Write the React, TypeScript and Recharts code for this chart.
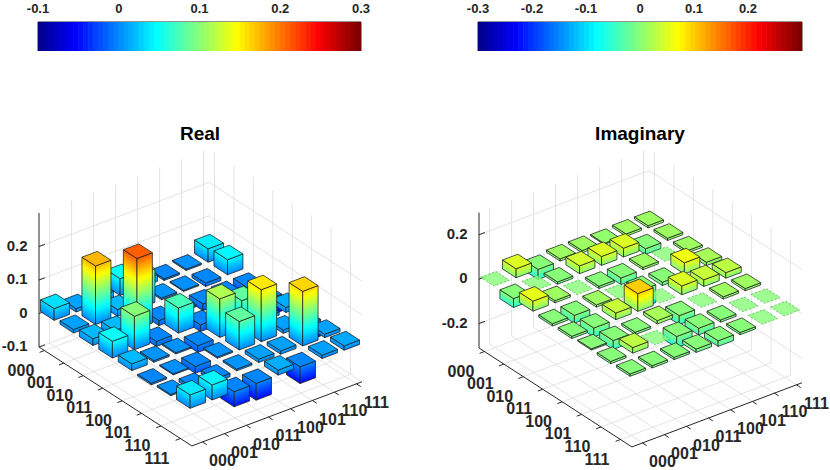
import React from "react";
import {
  ScatterChart,
  Scatter,
  XAxis,
  YAxis,
  ReferenceArea,
  ReferenceLine,
} from "recharts";

// basis states, used for both matrix axes
const BASIS = ["000", "001", "010", "011", "100", "101", "110", "111"];

// real part of the reconstructed density matrix (symmetric)
const REAL_PART = [
  [0.035, 0.01, 0.02, 0.05, 0.02, -0.005, 0.004, 0.04],
  [0.01, 0.175, 0.02, 0.1, 0.005, 0.003, -0.01, 0.045],
  [0.02, 0.02, 0.21, -0.015, 0.004, -0.02, -0.01, -0.045],
  [0.05, 0.1, -0.015, 0.075, -0.02, 0.004, 0.005, -0.05],
  [0.02, 0.005, 0.004, -0.02, 0.115, 0.085, 0.01, 0.015],
  [-0.005, 0.003, -0.02, 0.004, 0.085, 0.155, 0.01, -0.05],
  [0.004, -0.01, -0.01, 0.005, 0.01, 0.01, 0.163, 0.01],
  [0.04, 0.045, -0.045, -0.05, 0.015, -0.05, 0.01, 0.013],
];

// imaginary part (antisymmetric)
const IMAG_PART = [
  [0, 0.04, -0.045, 0.01, 0.01, 0.005, 0.01, 0.01],
  [-0.04, 0, -0.01, 0.035, 0.04, 0.04, -0.025, 0.01],
  [0.045, 0.01, 0, -0.01, -0.03, 0.01, 0, 0.01],
  [-0.01, -0.035, 0.01, 0, -0.08, -0.015, 0.05, 0.015],
  [-0.01, -0.04, 0.03, 0.08, 0, 0.04, 0.03, 0.025],
  [-0.005, -0.04, -0.01, 0.015, -0.04, 0, 0.01, 0.01],
  [-0.01, 0.025, 0, -0.05, -0.03, -0.01, 0, 0],
  [-0.01, -0.01, -0.01, -0.015, -0.025, -0.01, 0, 0],
];

const REAL_Z_TICKS = [-0.1, 0, 0.1, 0.2];
const IMAG_Z_TICKS = [-0.2, 0, 0.2];
const REAL_BAR_TICKS = [-0.1, 0, 0.1, 0.2, 0.3];
const IMAG_BAR_TICKS = [-0.3, -0.2, -0.1, 0, 0.1, 0.2];

const FONT = '"Liberation Sans", Arial, Helvetica, sans-serif';
const INK = "#262626";
const GRID = "#dcdcdc";

// view (az -37.5, el 30): screen offset of one matrix row / column step
const ROW_STEP = [19.43, 12.57];
const COL_STEP = [22, -8.3];
const ROW_LIM = [0.72, 8.59];
const COL_LIM = [0.52, 8.25];
const HALF = 0.35; // half bar width

const CHART_W = 415;
const CHART_H = 470;
const X_DOMAIN = [0, CHART_W];
const Y_DOMAIN = [0, CHART_H];
const PX = CHART_W / (X_DOMAIN[1] - X_DOMAIN[0]);

const CB_H = 29; // colorbar thickness
const CB_TOP = 22;

type Panel = {
  key: string;
  title: string;
  values: number[][];
  clim: [number, number];
  barClim: [number, number];
  zlim: [number, number];
  zticks: number[];
  origin: [number, number];
  zpx: number;
  left: number;
  titleX: number;
};

const PANELS: Panel[] = [
  {
    key: "re",
    title: "Real",
    values: REAL_PART,
    clim: [-0.1, 0.3],
    barClim: [-0.1, 0.3],
    zlim: [-0.1, 0.3],
    zticks: REAL_Z_TICKS,
    origin: [39, 347],
    zpx: 335,
    left: 0,
    titleX: 200,
  },
  {
    key: "im",
    title: "Imaginary",
    values: IMAG_PART,
    clim: [-0.3, 0.3],
    barClim: [-0.24, 0.24],
    zlim: [-0.31, 0.3],
    zticks: IMAG_Z_TICKS,
    origin: [64, 348],
    zpx: 222,
    left: 415,
    titleX: 225,
  },
];

// MATLAB jet, t in [0, 1]
function jetColor(t: number) {
  const k = Math.max(0, Math.min(1, t)) * 64 + 0.5;
  const ch = (d: number) => Math.round(Math.max(0, Math.min(1, d / 16)) * 255);
  const r = ch(Math.min(k - 24, 72 - k));
  const g = ch(Math.min(k - 8, 56 - k));
  const b = ch(Math.min(k + 8, 40 - k));
  return `rgb(${r},${g},${b})`;
}

const valueColor = (v: number, clim: [number, number]) =>
  jetColor((v - clim[0]) / (clim[1] - clim[0]));

const COLORMAP = Array.from({ length: 64 }, (_, i) => jetColor((i + 0.5) / 64));

function project(p: Panel, r: number, c: number, z: number) {
  const dr = r - ROW_LIM[0];
  const dc = c - COL_LIM[0];
  return {
    u: p.origin[0] + dr * ROW_STEP[0] + dc * COL_STEP[0],
    w: p.origin[1] + dr * ROW_STEP[1] + dc * COL_STEP[1] - (z - p.zlim[0]) * p.zpx,
  };
}

function seg(p: Panel, a: number[], b: number[], color: string, width: number) {
  const s = project(p, a[0], a[1], a[2]);
  const e = project(p, b[0], b[1], b[2]);
  return { u: s.u, w: s.w, u2: e.u, w2: e.w, color, width };
}

function buildGrid(p: Panel) {
  const [z0, z1] = p.zlim;
  const [r0, r1] = ROW_LIM;
  const [c0, c1] = COL_LIM;
  const out: any[] = [];
  BASIS.forEach((_, i) => {
    const k = i + 1;
    out.push(seg(p, [k, c0, z0], [k, c1, z0], GRID, 0.8));
    out.push(seg(p, [r0, k, z0], [r1, k, z0], GRID, 0.8));
    out.push(seg(p, [r0, k, z0], [r0, k, z1], GRID, 0.8));
    out.push(seg(p, [k, c1, z0], [k, c1, z1], GRID, 0.8));
  });
  p.zticks.forEach((z) => {
    out.push(seg(p, [r0, c0, z], [r0, c1, z], GRID, 0.8));
    out.push(seg(p, [r0, c1, z], [r1, c1, z], GRID, 0.8));
  });
  return out;
}

function buildAxes(p: Panel) {
  const [z0, z1] = p.zlim;
  const [r0, r1] = ROW_LIM;
  const [c0, c1] = COL_LIM;
  const out: any[] = [
    seg(p, [r0, c0, z0], [r0, c0, z1], INK, 1),
    seg(p, [r0, c0, z0], [r1, c0, z0], INK, 1),
    seg(p, [r1, c0, z0], [r1, c1, z0], INK, 1),
  ];
  p.zticks.forEach((z) => out.push(seg(p, [r0, c0, z], [r0, c0 + 0.27, z], INK, 1)));
  BASIS.forEach((_, i) => {
    out.push(seg(p, [i + 1, c0, z0], [i + 1, c0 - 0.22, z0], INK, 1));
    out.push(seg(p, [r1, i + 1, z0], [r1 + 0.22, i + 1, z0], INK, 1));
  });
  return out;
}

function buildLabels(p: Panel) {
  const z0 = p.zlim[0];
  const out: any[] = [];
  p.zticks.forEach((z) => {
    const q = project(p, ROW_LIM[0], COL_LIM[0], z);
    out.push({ u: q.u - 11.5, w: q.w - 1.5, text: String(z), anchor: "end", size: 15, mid: true });
  });
  BASIS.forEach((name, i) => {
    const a = project(p, i + 1, COL_LIM[0], z0);
    out.push({ u: a.u - 23.5, w: a.w + 19.5, text: name, anchor: "middle", size: 16, mid: true });
    const b = project(p, ROW_LIM[1], i + 1, z0);
    out.push({ u: b.u + 20, w: b.w + 18.8, text: name, anchor: "middle", size: 16, mid: true });
  });
  out.push({ u: p.titleX, w: 140, text: p.title, anchor: "middle", size: 19, mid: false });
  return out;
}

function buildBars(p: Panel, pi: number) {
  const cells: any[] = [];
  p.values.forEach((row, ri) =>
    row.forEach((v, ci) => {
      const q = project(p, ri + 1, ci + 1, 0);
      cells.push({ u: q.u, w: q.w, r: ri + 1, c: ci + 1, v, panel: pi });
    })
  );
  // back to front
  const depth = (d: any) => d.r * ROW_STEP[1] + d.c * COL_STEP[1];
  return cells.sort((a, b) => depth(a) - depth(b));
}

const LineShape = (props: any) => {
  const { cx, cy, payload } = props;
  return (
    <line
      x1={cx}
      y1={cy}
      x2={cx + (payload.u2 - payload.u) * PX}
      y2={cy + (payload.w2 - payload.w) * PX}
      stroke={payload.color}
      strokeWidth={payload.width}
    />
  );
};

const TextShape = (props: any) => {
  const { cx, cy, payload } = props;
  return (
    <text
      x={cx}
      y={cy}
      textAnchor={payload.anchor}
      dominantBaseline={payload.mid ? "central" : "alphabetic"}
      fontFamily={FONT}
      fontWeight={700}
      fontSize={payload.size}
      fill={payload.size > 17 ? "#000" : INK}
    >
      {payload.text}
    </text>
  );
};

function gradient(id: string, p1: number[], e: number[], hPx: number, zb: number, zt: number, clim: [number, number]) {
  const len = Math.hypot(e[0], e[1]);
  const n = [-e[1] / len, e[0] / len];
  const s = -hPx * n[1];
  const stops = [];
  for (let i = 0; i <= 16; i++) {
    const f = i / 16;
    stops.push(<stop key={i} offset={f} stopColor={valueColor(zb + f * (zt - zb), clim)} />);
  }
  return (
    <linearGradient
      id={id}
      gradientUnits="userSpaceOnUse"
      x1={p1[0]}
      y1={p1[1]}
      x2={p1[0] + n[0] * s}
      y2={p1[1] + n[1] * s}
    >
      {stops}
    </linearGradient>
  );
}

const BoxShape = (props: any) => {
  const { cx, cy, payload } = props;
  const p = PANELS[payload.panel];
  const v: number = payload.v;
  const zt = Math.max(0, v);
  const zb = Math.min(0, v);
  const pt = (dr: number, dc: number, z: number) => [
    cx + (dr * ROW_STEP[0] + dc * COL_STEP[0]) * PX,
    cy + (dr * ROW_STEP[1] + dc * COL_STEP[1] - z * p.zpx) * PX,
  ];
  const pts = (a: number[][]) => a.map((q) => q.join(",")).join(" ");
  const H = HALF;
  const top = [pt(-H, -H, zt), pt(-H, H, zt), pt(H, H, zt), pt(H, -H, zt)];
  if (Math.abs(v) < 1e-9) {
    return (
      <polygon
        points={pts(top)}
        fill={valueColor(0, p.barClim)}
        fillOpacity={0.8}
        stroke="#52b452"
        strokeOpacity={0.8}
        strokeDasharray="2.5 1.5"
        strokeWidth={0.9}
      />
    );
  }
  const leftFace = [pt(-H, -H, zb), pt(H, -H, zb), pt(H, -H, zt), pt(-H, -H, zt)];
  const rightFace = [pt(H, -H, zb), pt(H, H, zb), pt(H, H, zt), pt(H, -H, zt)];
  const hPx = (zt - zb) * p.zpx * PX;
  const id = `${p.key}-${payload.r}-${payload.c}`;
  const edge = { stroke: "#1c1c1c", strokeWidth: 0.75, strokeLinejoin: "round" as const };
  return (
    <g>
      <defs>
        {gradient(`${id}-l`, leftFace[0], ROW_STEP, hPx, zb, zt, p.barClim)}
        {gradient(`${id}-r`, rightFace[0], COL_STEP, hPx, zb, zt, p.barClim)}
      </defs>
      <polygon points={pts(leftFace)} fill={`url(#${id}-l)`} {...edge} />
      <polygon points={pts(rightFace)} fill={`url(#${id}-r)`} {...edge} />
      <polygon points={pts(top)} fill={valueColor(zt, p.barClim)} {...edge} />
    </g>
  );
};

function Panel3D({ p, index }: { p: Panel; index: number }) {
  const grid = buildGrid(p);
  const axes = buildAxes(p);
  const labels = buildLabels(p);
  const bars = buildBars(p, index);
  return (
    <div style={{ position: "absolute", left: p.left, top: 0 }}>
      <ScatterChart width={CHART_W} height={CHART_H} margin={{ top: 0, right: 0, bottom: 0, left: 0 }}>
        <XAxis type="number" dataKey="u" domain={X_DOMAIN} hide allowDataOverflow />
        <YAxis type="number" dataKey="w" domain={Y_DOMAIN} reversed hide allowDataOverflow />
        <Scatter data={grid} shape={LineShape} isAnimationActive={false} />
        <Scatter data={axes} shape={LineShape} isAnimationActive={false} />
        <Scatter data={labels} shape={TextShape} isAnimationActive={false} />
        <Scatter data={bars} shape={BoxShape} isAnimationActive={false} />
      </ScatterChart>
    </div>
  );
}

function Colorbar({ clim, ticks, left, width }: { clim: [number, number]; ticks: number[]; left: number; width: number }) {
  const step = (clim[1] - clim[0]) / COLORMAP.length;
  const bins = COLORMAP.map((color, k) => ({ x: clim[0] + (k + 0.5) * step, y: 0.5, color }));
  const binPx = width / COLORMAP.length;
  const inner = ticks.filter((t) => t > clim[0] + 1e-9 && t < clim[1] - 1e-9);
  const BinShape = (props: any) => (
    <rect
      x={props.cx - binPx / 2 - 0.3}
      y={props.cy - CB_H / 2}
      width={binPx + 0.6}
      height={CB_H}
      fill={props.payload.color}
    />
  );
  return (
    <div style={{ position: "absolute", left: left - 20, top: 0 }}>
      <ScatterChart
        width={width + 40}
        height={CB_TOP + CB_H}
        margin={{ top: 0, right: 20, bottom: 0, left: 20 }}
      >
        <XAxis
          type="number"
          dataKey="x"
          orientation="top"
          domain={clim}
          ticks={ticks}
          height={CB_TOP}
          interval={0}
          allowDataOverflow
          axisLine={false}
          tickLine={false}
          tickSize={6}
          tickMargin={3}
          tick={{ fontSize: 13, fontWeight: 700, fill: INK, fontFamily: FONT }}
        />
        <YAxis type="number" dataKey="y" hide domain={[0, 1]} />
        <Scatter data={bins} shape={BinShape} isAnimationActive={false} />
        {inner.map((t) => (
          <ReferenceLine
            key={t}
            segment={[{ x: t, y: 1 }, { x: t, y: 0.9 }]}
            stroke={INK}
            strokeWidth={1}
          />
        ))}
        <ReferenceArea
          x1={clim[0]}
          x2={clim[1]}
          y1={0}
          y2={1}
          fill="none"
          fillOpacity={0}
          stroke={INK}
          strokeWidth={1}
          ifOverflow="visible"
        />
      </ScatterChart>
    </div>
  );
}

export default function App() {
  return (
    <div style={{ position: "absolute", left: 0, top: 0, width: 830, height: 470, background: "#fff" }}>
      {PANELS.map((p, i) => (
        <Panel3D key={p.key} p={p} index={i} />
      ))}
      <Colorbar clim={[-0.1, 0.3]} ticks={REAL_BAR_TICKS} left={38} width={323} />
      <Colorbar clim={[-0.3, 0.3]} ticks={IMAG_BAR_TICKS} left={478} width={324} />
    </div>
  );
}
